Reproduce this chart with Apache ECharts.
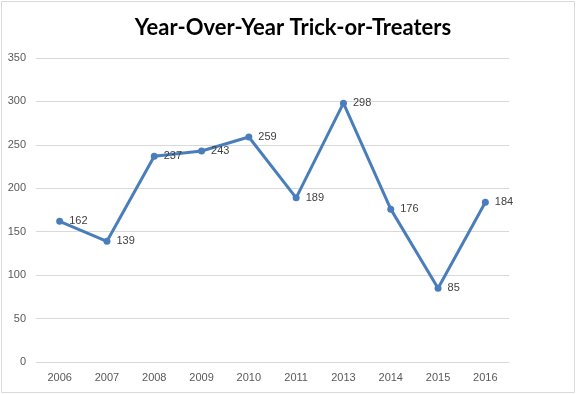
<!DOCTYPE html>
<html><head><meta charset="utf-8">
<script src="https://cdn.jsdelivr.net/npm/echarts@6/dist/echarts.min.js"></script>
<style>html,body{margin:0;padding:0;background:#fff}#c{width:577px;height:394px}</style>
</head><body><div id="c"></div>
<script>
const categories = ['2006','2007','2008','2009','2010','2011','2013','2014','2015','2016'];
const values = [162,139,237,243,259,189,298,176,85,184];
const chart = echarts.init(document.getElementById('c'), null, {renderer:'canvas'});
chart.setOption({
  backgroundColor:'#fff',
  animation:false,
  title:{text:'Year-Over-Year Trick-or-Treaters', left:288, top:12, textAlign:'center',
    textStyle:{fontFamily:'Lato', fontWeight:'bold', fontSize:22, color:'#000'}},
  graphic:[{type:'rect', shape:{x:1.5,y:1.5,width:573,height:391}, style:{fill:'none', stroke:'#d9d9d9', lineWidth:1}}],
  grid:{left:36, right:68, top:58, bottom:32},
  xAxis:{type:'category', data:categories, boundaryGap:true,
    axisLine:{lineStyle:{color:'#d9d9d9'}}, axisTick:{show:false},
    axisLabel:{color:'#595959', fontSize:11, fontFamily:'Liberation Sans', margin:10}},
  yAxis:{type:'value', min:0, max:350, interval:50,
    axisLine:{show:false}, axisTick:{show:false},
    splitLine:{lineStyle:{color:'#d9d9d9'}},
    axisLabel:{color:'#595959', fontSize:11, fontFamily:'Liberation Sans', margin:10}},
  series:[{type:'line', data:values, symbol:'circle', symbolSize:7,
    lineStyle:{color:'#4a7ebb', width:3}, itemStyle:{color:'#4a7ebb'},
    label:{show:true, position:'right', distance:6, color:'#404040', fontSize:11, fontFamily:'Liberation Sans'}}]
});
</script></body></html>
